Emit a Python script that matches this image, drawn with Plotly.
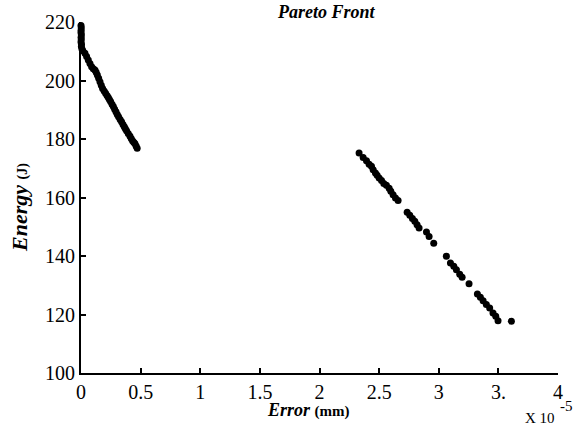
import plotly.graph_objects as go

# Error values (x 1e-5 mm) and Energy (J)
error_a = [0.000, 0.002, 0.001, 0.000, 0.003, 0.001, 0.002, 0.000, 0.004, 0.003, 0.008, 0.015,
           0.033, 0.047, 0.061, 0.075, 0.089, 0.103, 0.117, 0.127, 0.137, 0.148, 0.159, 0.170,
           0.181, 0.194, 0.206, 0.218, 0.229, 0.238, 0.248, 0.260, 0.271, 0.282, 0.293, 0.304,
           0.315, 0.328, 0.340, 0.352, 0.363, 0.372, 0.382, 0.396, 0.410, 0.421, 0.432, 0.442,
           0.452, 0.462, 0.471]
energy_a = [218.8, 218.0, 217.2, 216.4, 215.6, 214.8, 214.0, 213.2, 212.4, 211.6, 210.8, 210.2,
            209.3, 208.2, 207.0, 205.8, 204.7, 204.0, 203.6, 202.8, 201.9, 200.8, 199.6, 198.4,
            197.3, 196.4, 195.6, 194.9, 194.2, 193.5, 192.8, 191.9, 191.1, 190.2, 189.3, 188.4,
            187.6, 186.7, 185.9, 185.0, 184.2, 183.5, 182.8, 181.9, 181.0, 180.2, 179.4, 178.9,
            178.5, 177.6, 176.8]

error_b = [2.332, 2.366, 2.394, 2.416, 2.436, 2.450, 2.469, 2.483, 2.500, 2.520, 2.539, 2.561,
           2.584, 2.598, 2.617, 2.637, 2.659, 2.735, 2.757, 2.779, 2.799, 2.818, 2.835, 2.897,
           2.919, 2.958, 3.064, 3.098, 3.126, 3.148, 3.176, 3.196, 3.254, 3.324, 3.349, 3.372,
           3.399, 3.427, 3.455, 3.478, 3.497, 3.609]
energy_b = [175.2, 173.7, 172.6, 171.4, 170.7, 169.5, 168.4, 167.6, 166.7, 165.8, 164.8, 164.2,
            163.2, 162.1, 160.9, 159.8, 159.0, 155.0, 153.9, 152.8, 151.9, 150.7, 149.6, 148.2,
            146.7, 144.4, 139.9, 137.6, 136.5, 135.3, 133.8, 132.7, 130.5, 127.0, 125.9, 124.7,
            123.4, 122.2, 120.5, 119.4, 117.9, 117.7]

x_tickvals = [0, 0.5, 1, 1.5, 2, 2.5, 3, 3.5, 4]
x_ticktext = ["0", "0.5", "1", "1.5", "2", "2.5", "3", "3.", "4"]
y_tickvals = [100, 120, 140, 160, 180, 200, 220]

SERIF = "Liberation Serif"

fig = go.Figure()
fig.add_trace(go.Scatter(x=error_a + error_b, y=energy_a + energy_b, mode="markers",
                         marker=dict(color="black", size=7), showlegend=False,
                         cliponaxis=False))

L, R, T, B = 81, 21, 22, 57
W, H = 579, 430
pw, ph = W - L - R, H - T - B

def px(x):
    return (x - L) / pw

def py(y):
    return (H - B - y) / ph

fig.update_layout(
    width=W, height=H,
    margin=dict(l=L, r=R, t=T, b=B),
    paper_bgcolor="white", plot_bgcolor="white",
    font=dict(family=SERIF, color="black", size=20),
    xaxis=dict(range=[0, 4], tickvals=x_tickvals, ticktext=x_ticktext,
               showgrid=False, zeroline=False, showline=True, linecolor="black",
               linewidth=2, ticks="inside", ticklen=5, tickwidth=2, tickcolor="black",
               tickfont=dict(family=SERIF, size=20, color="black")),
    yaxis=dict(range=[100, 220], tickvals=y_tickvals,
               showgrid=False, zeroline=False, showline=True, linecolor="black",
               linewidth=2, ticks="inside", ticklen=5, tickwidth=2, tickcolor="black",
               tickfont=dict(family=SERIF, size=20, color="black")),
    annotations=[
        dict(text="<b><i>Pareto Front</i></b>", xref="paper", yref="paper",
             x=px(326), y=py(12), showarrow=False, xanchor="center", yanchor="middle",
             font=dict(family=SERIF, size=18, color="black")),
        dict(text="<b><i>Error</i></b> <b><span style='font-size:15px'>(mm)</span></b>",
             xref="paper", yref="paper", x=px(308), y=py(410), showarrow=False,
             xanchor="center", yanchor="middle",
             font=dict(family=SERIF, size=18, color="black")),
        dict(text="<b><i>Energy</i></b> <b><span style='font-size:14px'>(J)</span></b>",
             xref="paper", yref="paper", x=px(19), y=py(208), showarrow=False,
             xanchor="center", yanchor="middle", textangle=-90,
             font=dict(family=SERIF, size=22, color="black")),
        dict(text="X 10", xref="paper", yref="paper", x=px(540), y=py(418),
             showarrow=False, xanchor="center", yanchor="middle",
             font=dict(family=SERIF, size=15, color="black")),
        dict(text="-5", xref="paper", yref="paper", x=px(566), y=py(406),
             showarrow=False, xanchor="center", yanchor="middle",
             font=dict(family=SERIF, size=15, color="black")),
    ],
)

fig.write_html("out.html")
